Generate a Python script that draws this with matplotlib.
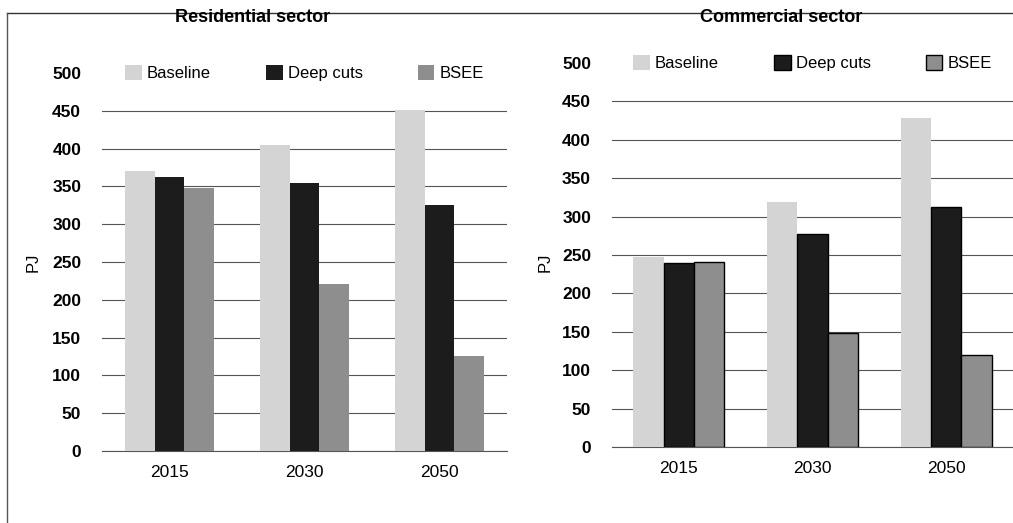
import matplotlib.pyplot as plt
import numpy as np
from matplotlib.lines import Line2D
from matplotlib import font_manager

# pick a narrow sans if there is one
names = {f.name for f in font_manager.fontManager.ttflist}
fam = 'Liberation Sans Narrow' if 'Liberation Sans Narrow' in names else 'Liberation Sans'
plt.rcParams['font.family'] = [fam, 'DejaVu Sans']

years = ['2015', '2030', '2050']
scenarios = ['Baseline', 'Deep cuts', 'BSEE']

res_baseline = [370, 405, 451]
res_deepcuts = [362, 355, 325]
res_bsee = [348, 221, 126]

com_baseline = [247, 319, 428]
com_deepcuts = [240, 277, 312]
com_bsee = [241, 148, 120]

colors = ['#d4d4d4', '#1c1c1c', '#8e8e8e']

fig = plt.figure(figsize=(10.13, 5.23), dpi=100)
ax1 = fig.add_axes([0.1007, 0.1377, 0.3998, 0.7227])
ax2 = fig.add_axes([0.6041, 0.1453, 0.3959, 0.7342])


def draw(ax, series, width, edges):
    x = np.arange(len(years))
    for i, (vals, c) in enumerate(zip(series, colors)):
        ec = 'black' if edges[i] else 'none'
        ax.bar(x + (i - 1) * width, vals, width, color=c, edgecolor=ec,
               linewidth=1.0, zorder=3, label=scenarios[i])
    ax.set_xlim(-0.5, 2.5)
    ax.set_ylim(0, 500)
    ax.set_yticks(np.arange(0, 501, 50))
    ax.set_xticks(x)
    ax.set_xticklabels(years, fontsize=12.5)
    for lab in ax.get_yticklabels():
        lab.set_fontweight('bold')
        lab.set_fontsize(12.5)
    ax.tick_params(axis='both', length=0)
    ax.tick_params(axis='x', pad=10)
    ax.tick_params(axis='y', pad=15)
    ax.grid(axis='y', color='#555555', linewidth=0.8, zorder=0)
    # the top gridline sits behind the legend in the original
    ax.yaxis.get_gridlines()[-1].set_visible(False)
    for s in ['top', 'right', 'left']:
        ax.spines[s].set_visible(False)
    ax.spines['bottom'].set_color('#555555')
    leg = ax.legend(loc='center', bbox_to_anchor=(0.5, 1.0), ncol=3,
                    frameon=False, fontsize=12, handlelength=1.0,
                    handleheight=1.0, handletextpad=0.3, columnspacing=3.3,
                    borderpad=0.2)
    leg.set_zorder(5)


draw(ax1, [res_baseline, res_deepcuts, res_bsee], 0.22, [False, False, False])
draw(ax2, [com_baseline, com_deepcuts, com_bsee], 0.227, [False, True, True])

fig.text(253 / 1013, 1 - 17 / 523, 'Residential sector', ha='center', va='center',
         fontsize=13, fontweight='bold')
fig.text(781 / 1013, 1 - 17 / 523, 'Commercial sector', ha='center', va='center',
         fontsize=13, fontweight='bold')
fig.text(33 / 1013, 1 - 262 / 523, 'PJ', rotation=90, ha='center', va='center', fontsize=12)
fig.text(545 / 1013, 1 - 262 / 523, 'PJ', rotation=90, ha='center', va='center', fontsize=12)

# frame of the scanned page
fig.add_artist(Line2D([7 / 1013, 1.0], [1 - 13 / 523] * 2, color='#333333', linewidth=1.0))
fig.add_artist(Line2D([7 / 1013] * 2, [0, 1 - 13 / 523], color='#555555', linewidth=1.0))

fig.savefig('out.png', dpi=100)
